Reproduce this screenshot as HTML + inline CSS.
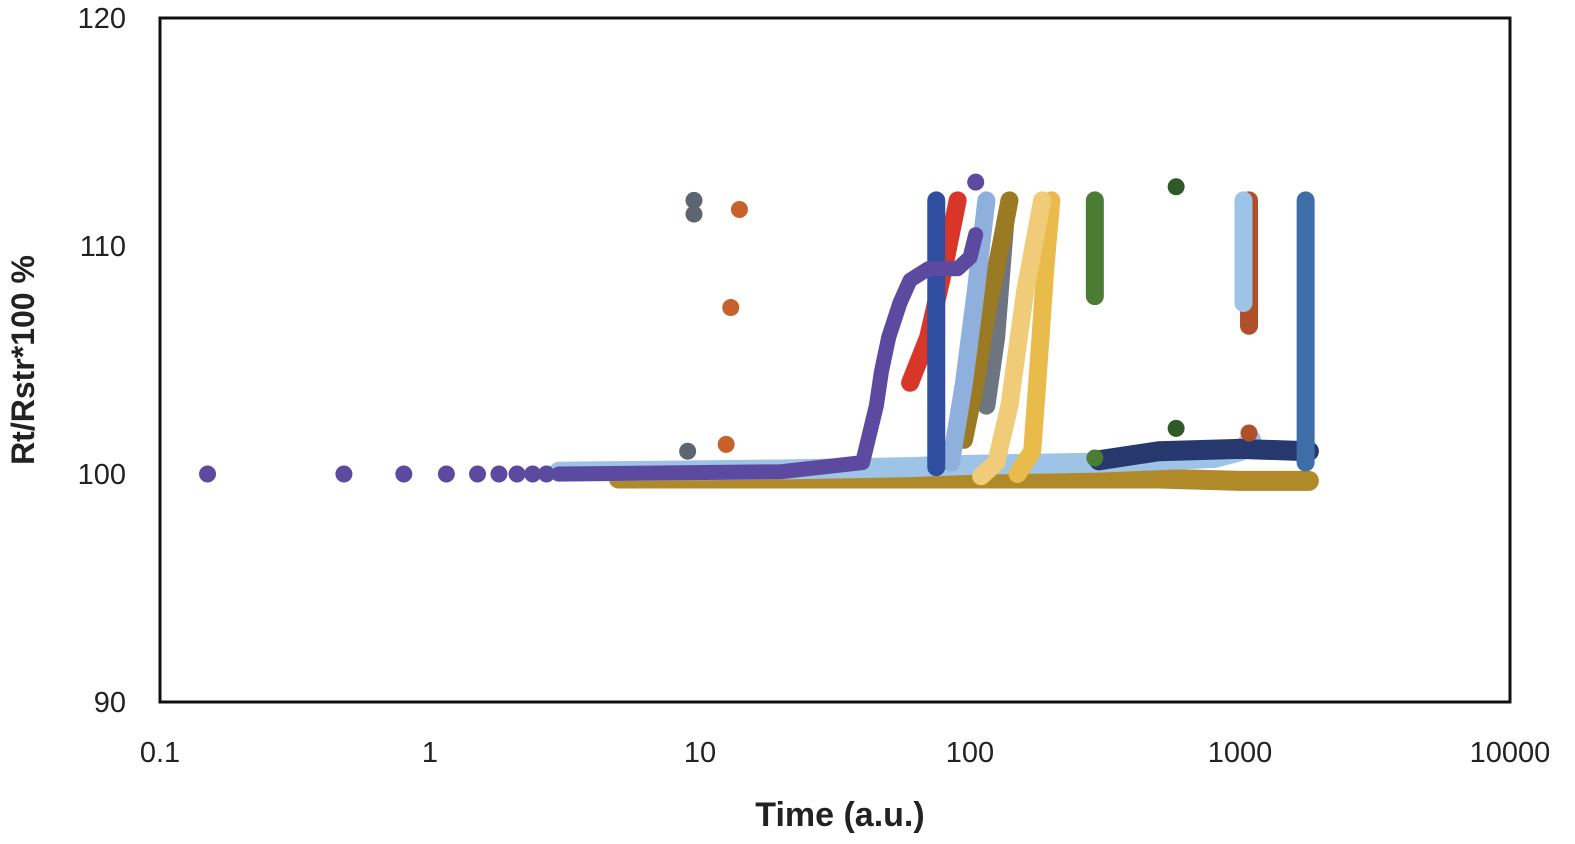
<!DOCTYPE html>
<html><head><meta charset="utf-8"><style>
body{margin:0;background:#fff;}
svg{display:block;font-family:"Liberation Sans",sans-serif;}
</style></head><body>
<svg id="chart" width="1575" height="844" viewBox="0 0 1575 844">
<rect x="160" y="18" width="1350" height="684" fill="#fff" stroke="#111" stroke-width="3"/>
<g id="marks"></g>
<g id="axes"></g>
<text x="840" y="826" text-anchor="middle" font-size="34" font-weight="bold" fill="#222">Time (a.u.)</text>
<text transform="translate(34,360) rotate(-90)" text-anchor="middle" font-size="32" font-weight="bold" fill="#222">Rt/Rstr*100  %</text>
</svg>
<script>
const yTicks=[90,100,110,120];
const xTicks=[0.1,1,10,100,1000,10000];
const xTickLabels=["0.1","1","10","100","1000","10000"];
const seriesNames=["gold-base","lightblue-base","navy-base","steelblue-1750","rust-1080","lightblue-1030","green-290","yellow-200","lightyellow","gray","olive","medblue","red","darkblue-75","purple"];
const seriesColors=["#b08a28","#9dc3e6","#26386e","#3e6ea8","#b0502a","#9dc3e6","#4a7c34","#e8bb4a","#f0cc78","#6d7680","#9a7a22","#8fb0dc","#d9362a","#2f4ea0","#5b4aa0"];
const seriesTimes=[
[5,50,100,200,500,1000,1800],
[3,20,60,100,300,800,1000,1100],
[300,500,1000,1800],
[1750,1750],
[1080,1080],
[1030,1030],
[290,290],
[150,170,180,190,200],
[110,125,140,160,185],
[115,125,135],
[95,105,115,130,140],
[85,95,105,115],
[60,70,80,90],
[75,75],
[3,20,40,45,47,50,55,60,70,90,100,105]];
const seriesValues=[
[99.8,99.8,99.8,99.8,99.8,99.7,99.7],
[100.1,100.2,100.3,100.4,100.5,100.7,101,101.5],
[100.6,101,101.1,101],
[100.5,112],
[106.5,112],
[107.5,112],
[107.8,112],
[100,101,105,109,112],
[99.9,100.5,103,108,112],
[103,106,111],
[101.5,104,107,110,112],
[100.5,104,108,112],
[104,106,109,112],
[100.3,112],
[100,100.1,100.5,103,104.5,106,107.5,108.5,109,109,109.5,110.5]];
const dotTimes=[0.15,0.48,0.8,1.15,1.5,1.8,2.1,2.4,2.7,9.5,9.5,9,14,13,12.5,580,580,1080,290,105,1750,1750];
const dotValues=[100,100,100,100,100,100,100,100,100,112,111.4,101,111.6,107.3,101.3,112.6,102,101.8,100.7,112.8,102.5,103.5];
const dotColors=["#5b4aa0","#5b4aa0","#5b4aa0","#5b4aa0","#5b4aa0","#5b4aa0","#5b4aa0","#5b4aa0","#5b4aa0","#5d6670","#5d6670","#5d6670","#c8602a","#c8602a","#c8602a","#2f5a26","#2f5a26","#b0502a","#4a7c34","#5b4aa0","#3e6ea8","#3e6ea8"];
const X=t=>160+270*(Math.log10(t)+1);
const Y=v=>474-(v-100)*22.8;
const NS="http://www.w3.org/2000/svg";
const marks=document.getElementById('marks'), axes=document.getElementById('axes');
seriesTimes.forEach((ts,i)=>{
  const p=document.createElementNS(NS,'polyline');
  p.setAttribute('points',ts.map((t,j)=>X(t)+','+Y(seriesValues[i][j])).join(' '));
  p.setAttribute('fill','none');p.setAttribute('stroke',seriesColors[i]);
  p.setAttribute('stroke-width',i<3?20:(i==14?15:18));p.setAttribute('stroke-linecap','round');p.setAttribute('stroke-linejoin','round');
  
  
  marks.appendChild(p);
});
dotTimes.forEach((t,i)=>{
  const c=document.createElementNS(NS,'circle');
  c.setAttribute('cx',X(t));c.setAttribute('cy',Y(dotValues[i]));c.setAttribute('r',8.5);c.setAttribute('fill',dotColors[i]);
  
  
  marks.appendChild(c);
});
yTicks.forEach(v=>{
  const tx=document.createElementNS(NS,'text');
  tx.setAttribute('x',126);tx.setAttribute('y',Y(v)+10);tx.setAttribute('text-anchor','end');tx.setAttribute('font-size','29');tx.setAttribute('fill','#222');
  tx.textContent=v;
  
  
  axes.appendChild(tx);
});
xTicks.forEach((t,i)=>{
  const tx=document.createElementNS(NS,'text');
  tx.setAttribute('x',X(t));tx.setAttribute('y',762);tx.setAttribute('text-anchor','middle');tx.setAttribute('font-size','29');tx.setAttribute('fill','#222');
  tx.textContent=xTickLabels[i];
  
  
  axes.appendChild(tx);
});
</script>
</body></html>
